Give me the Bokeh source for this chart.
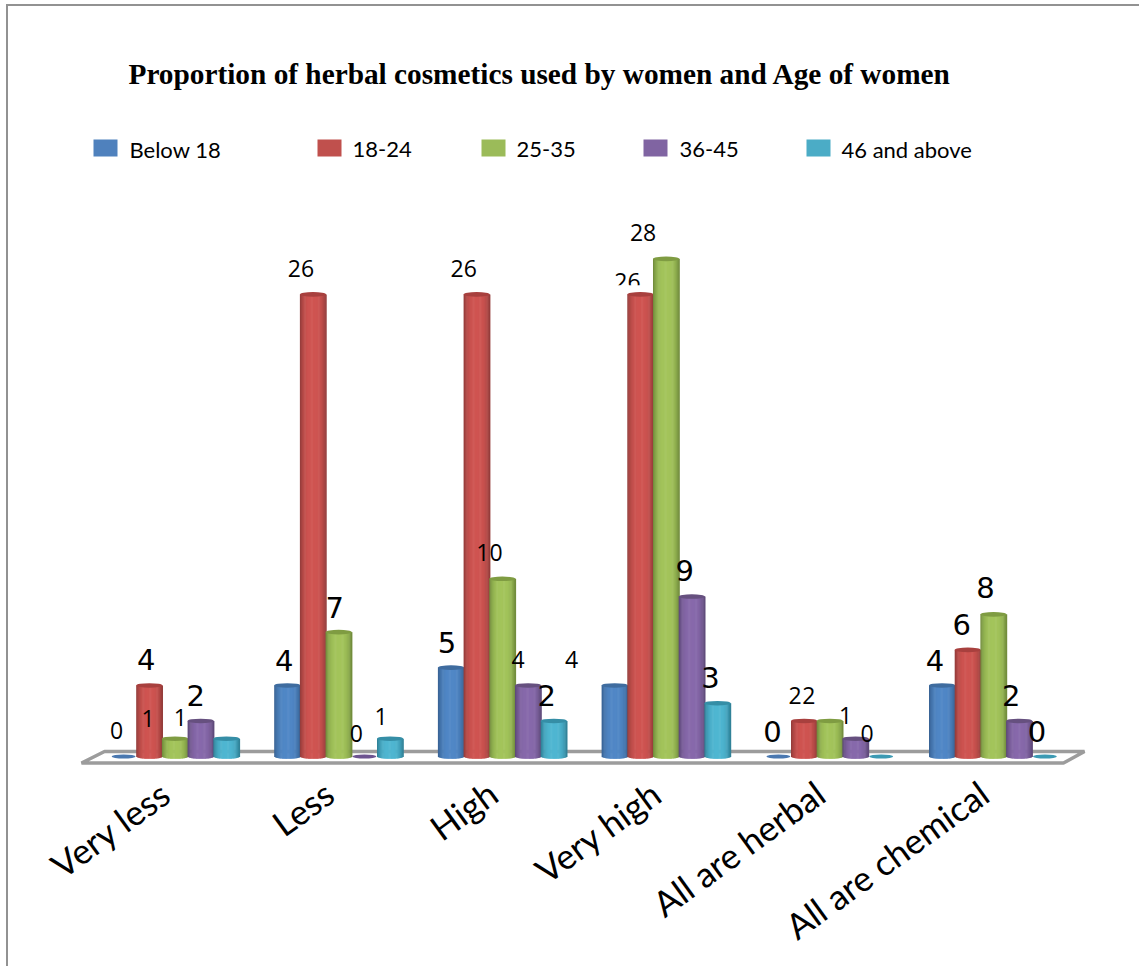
import numpy as np
from bokeh.core.properties import value
from bokeh.embed import file_html
from bokeh.models import ColumnDataSource, FixedTicker, Range1d
from bokeh.plotting import figure
from bokeh.resources import INLINE

# Survey counts per proportion category and age group
categories = ["Very less", "Less", "High", "Very high", "All are herbal", "All are chemical"]
below_18 = [0, 4, 5, 4, 0, 4]
age_18_24 = [4, 26, 26, 26, 2, 6]
age_25_35 = [1, 7, 10, 28, 2, 8]
age_36_45 = [2, 0, 4, 9, 1, 2]
age_46_up = [1, 1, 2, 3, 0, 0]
series_names = ["Below 18", "18-24", "25-35", "36-45", "46 and above"]
chart_title = "Proportion of herbal cosmetics used by women and Age of women"

series = [below_18, age_18_24, age_25_35, age_36_45, age_46_up]

# Cylinder colours: face centre, shaded edge, cap, flat ellipse for zero
palette = [
    ("#5087c6", "#365f8f", "#3f6c9f", "#4a78b0"),
    ("#cf5451", "#8e3a38", "#a8403e", "#b04a48"),
    ("#a3c45b", "#6c8739", "#7f9c42", "#8aa84c"),
    ("#8769ab", "#5a4674", "#66507f", "#6d5490"),
    ("#4fb6d1", "#2c7c92", "#358ea6", "#3c9ab3"),
]
swatches = ["#4f81bd", "#c0504d", "#9bbb59", "#8064a2", "#4bacc6"]

# Page geometry, in pixels
W, H = 1139, 966
TOP_PANEL, BOTTOM_PANEL = 95, 196
FRAME_BOTTOM = H - BOTTOM_PANEL
BASE_Y, UNIT = 757.0, 17.8
GROUP_PX, BAR_PX, FIRST_GROUP_X = 163.7, 25.7, 174.5


def dx(px):
    return px / GROUP_PX


def dy(px):
    return px / UNIT


def data_x(px):
    return (px - FIRST_GROUP_X) / GROUP_PX


def data_y(px):
    return (BASE_Y - px) / UNIT


p = figure(
    width=W, height=H, output_backend="svg", toolbar_location=None,
    x_range=Range1d(data_x(0), data_x(W)),
    y_range=Range1d(data_y(FRAME_BOTTOM), data_y(TOP_PANEL)),
    min_border_left=0, min_border_right=0,
    min_border_top=TOP_PANEL, min_border_bottom=BOTTOM_PANEL,
)
p.outline_line_color = None
p.background_fill_color = "white"
p.border_fill_color = "white"
p.grid.visible = False
p.yaxis.visible = False

# Page rule along the top and left edges, drawn over the whole canvas
p.stylesheets = [
    ":host::after{content:'';position:absolute;left:6px;top:4px;right:0;bottom:0;"
    "border-left:2px solid #929292;border-top:2px solid #929292;pointer-events:none;}"
]

p.title.text = chart_title
p.title.text_font = "Liberation Serif"
p.title.text_font_size = "29.3px"
p.title.text_font_style = "bold"
p.title.text_color = "#000000"
p.title.align = "left"
p.title.offset = 128
p.title.standoff = 11

# Category axis with slanted labels, ticks eased left of the group centres
TICK_SHIFT = 0.06
ticks = [i - TICK_SHIFT for i in range(len(categories))]
xaxis = p.xaxis[0]
xaxis.ticker = FixedTicker(ticks=ticks)
xaxis.major_label_overrides = dict(zip(ticks, categories))
xaxis.major_label_orientation = np.radians(36)
xaxis.major_label_text_font = "Lato"
xaxis.major_label_text_font_size = "35px"
xaxis.major_label_text_color = "#000000"
xaxis.major_label_standoff = 13
xaxis.axis_line_color = None
xaxis.major_tick_line_color = None
xaxis.minor_tick_line_color = None

# Floor of the chart, a flat slab seen from above
floor_xs = [data_x(v) for v in (81, 104, 1084, 1063)]
floor_ys = [data_y(v) for v in (763.5, 752, 752, 763.5)]
p.patch(floor_xs, floor_ys, fill_color="white", line_color="#9c9c9c", line_width=3.5)

# Legend row
legend_swatch_x = [93, 317, 481, 643, 806]
legend_text_x = [129, 352, 516, 679, 841]
p.quad(left=[data_x(v) for v in legend_swatch_x],
       right=[data_x(v + 24) for v in legend_swatch_x],
       top=[data_y(139)] * 5, bottom=[data_y(156)] * 5,
       fill_color=swatches, line_color=None)
p.text(x=[data_x(v) for v in legend_text_x], y=[data_y(149)] * 5, text=series_names,
       text_font=value("Lato"), text_font_size="22px", text_color="#000000",
       text_align="left", text_baseline="middle")

# Value labels: (x shift, y shift) in pixels from the top centre of each bar
label_shift = [
    [(-7, -26), (-3, -26), (-27, -20), (-5, -25), (-46, -21)],
    [(-3, -25), (-12, -26), (-4, -25), (-8, -23), (-9, -22)],
    [(-4, -25), (-13, -26), (-13, -26), (-10, -26), (-7, -25)],
    [(-43, -26), (-13, -13), (-23, -26), (-7, -26), (-7, -26)],
    [(-6, -25), (-9, -25), (-21, -25), (-10, -23), (-14, -23)],
    [(-7, -25), (-6, -25), (-8, -27), (-8, -25), (-8, -25)],
]
label_large = [
    [0, 1, 0, 1, 0],
    [1, 0, 1, 0, 0],
    [1, 0, 0, 0, 1],
    [0, 0, 0, 1, 1],
    [1, 0, 0, 0, 0],
    [1, 1, 1, 1, 1],
]


def add_labels(cells):
    for large in (0, 1):
        rows = [c for c in cells if label_large[c[0]][c[1]] == large]
        if not rows:
            continue
        src = ColumnDataSource(dict(
            x=[g + (s - 2) * dx(BAR_PX) for g, s in rows],
            y=[series[s][g] for g, s in rows],
            text=[str(series[s][g]) for g, s in rows],
            xo=[label_shift[g][s][0] for g, s in rows],
            yo=[label_shift[g][s][1] for g, s in rows],
        ))
        p.text("x", "y", text="text", source=src, x_offset="xo", y_offset="yo",
               text_font=value("DejaVu Sans" if large else "Open Sans"),
               text_font_size="29px" if large else "23px",
               text_color="#000000", text_align="center", text_baseline="middle")


# The 26 label of the Very high group is partly hidden behind a white strip
hidden = (3, 1)
add_labels([hidden])
p.quad(left=[data_x(610)], right=[data_x(648)], top=[data_y(285)], bottom=[data_y(292)],
       fill_color="white", line_color=None)

# Cylinders built from narrow vertical strips so that the faces look round
STRIPS = 30
edges = np.linspace(-1, 1, STRIPS + 1)
mids = (edges[:-1] + edges[1:]) / 2
shade = np.abs(mids) ** 3.2
half = dx(BAR_PX) / 2 * 1.02
radius_y = dy(2.3)


def blend(a, b, t):
    ca = [int(a[i:i + 2], 16) for i in (1, 3, 5)]
    cb = [int(b[i:i + 2], 16) for i in (1, 3, 5)]
    return "#%02x%02x%02x" % tuple(int(round(u + (v - u) * t)) for u, v in zip(ca, cb))


for g in range(len(categories)):
    for s, values in enumerate(series):
        v = values[g]
        cx = g + (s - 2) * dx(BAR_PX)
        face, edge, cap, flat = palette[s]
        if v == 0:
            p.ellipse([cx], [0], width=dx(24), height=dy(4), fill_color=flat, line_color=None)
            continue
        p.quad(left=cx + edges[:-1] * half,
               right=cx + edges[1:] * half + dx(0.6),
               top=[v] * STRIPS,
               bottom=-radius_y * np.sqrt(np.clip(1 - mids ** 2, 0, 1)),
               fill_color=[blend(face, edge, t) for t in shade], line_color=None)
        p.ellipse([cx], [v], width=half * 2, height=radius_y * 2, fill_color=cap, line_color=None)

add_labels([(g, s) for g in range(len(categories)) for s in range(5) if (g, s) != hidden])

open("out.html", "w").write(file_html(p, INLINE))
